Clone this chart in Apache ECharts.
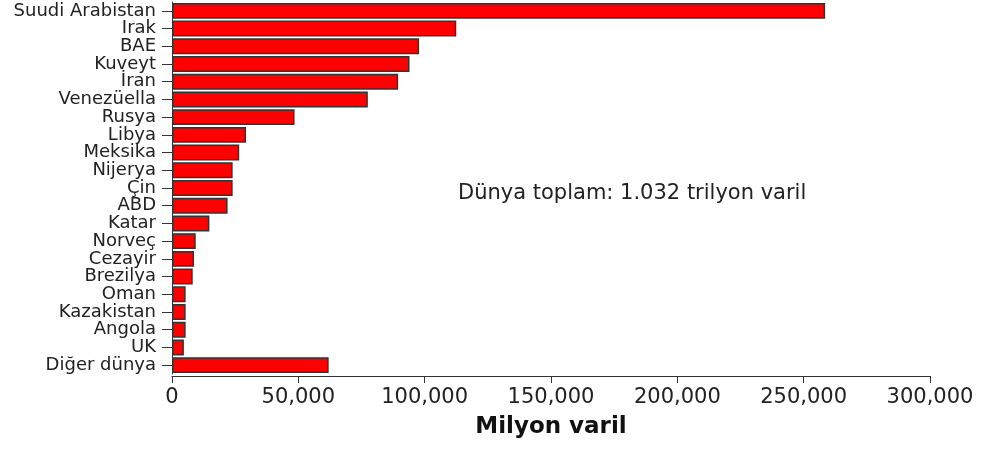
<!DOCTYPE html>
<html>
<head>
<meta charset="utf-8">
<script src="https://cdn.jsdelivr.net/npm/echarts@6/dist/echarts.min.js"></script>
<style>
html,body{margin:0;padding:0;background:#fff;}
#chart{width:982px;height:452px;}
</style>
</head>
<body>
<div id="chart"></div>
<script>
const categories = ["Suudi Arabistan","Irak","BAE","Kuveyt","İran","Venezüella","Rusya","Libya","Meksika","Nijerya","Çin","ABD","Katar","Norveç","Cezayir","Brezilya","Oman","Kazakistan","Angola","UK","Diğer dünya"];
const reserves = [258500,112500,97800,94000,89500,77500,48500,29300,26600,24000,24000,22000,14800,9400,8700,8200,5400,5400,5400,4700,62000];
const xTicks = { min: 0, max: 300000, interval: 50000 };
const axisTitle = "Milyon varil";
const note = "Dünya toplam: 1.032 trilyon varil";

const chart = echarts.init(document.getElementById('chart'), null, {renderer:'canvas'});
const FONT = 'DejaVu Sans';
chart.setOption({
  animation: false,
  backgroundColor: '#fff',
  grid: { left: 172, right: 52, top: 2, height: 372, containLabel: false },
  xAxis: {
    type: 'value',
    min: xTicks.min, max: xTicks.max, interval: xTicks.interval,
    offset: 2,
    axisLine: { show: true, lineStyle: { color: '#333', width: 1 } },
    axisTick: { show: true, length: 7, lineStyle: { color: '#333' } },
    splitLine: { show: false },
    axisLabel: {
      margin: 11, color: '#222', fontFamily: FONT, fontSize: 21,
      formatter: v => v.toLocaleString('en-US')
    },
    name: axisTitle, nameLocation: 'middle', nameGap: 40,
    nameTextStyle: { color: '#111', fontFamily: FONT, fontSize: 23, fontWeight: 'bold' }
  },
  yAxis: {
    type: 'category', data: categories, inverse: true,
    axisLine: { show: true, lineStyle: { color: '#333', width: 1 } },
    axisTick: { show: true, length: 10, interval: 0, alignWithLabel: true, lineStyle: { color: '#333' } },
    axisLabel: { interval: 0, margin: 16, color: '#222', fontFamily: FONT, fontSize: 18 }
  },
  series: [{
    type: 'bar', data: reserves, barCategoryGap: '10%',
    itemStyle: { color: '#ff0000', borderColor: '#333', borderWidth: 1.5 }
  }],
  graphic: [{
    type: 'text', left: 458, top: 183,
    style: { text: note, fontFamily: FONT, fontSize: 21, fill: '#222' }
  }]
});
</script>
</body>
</html>
